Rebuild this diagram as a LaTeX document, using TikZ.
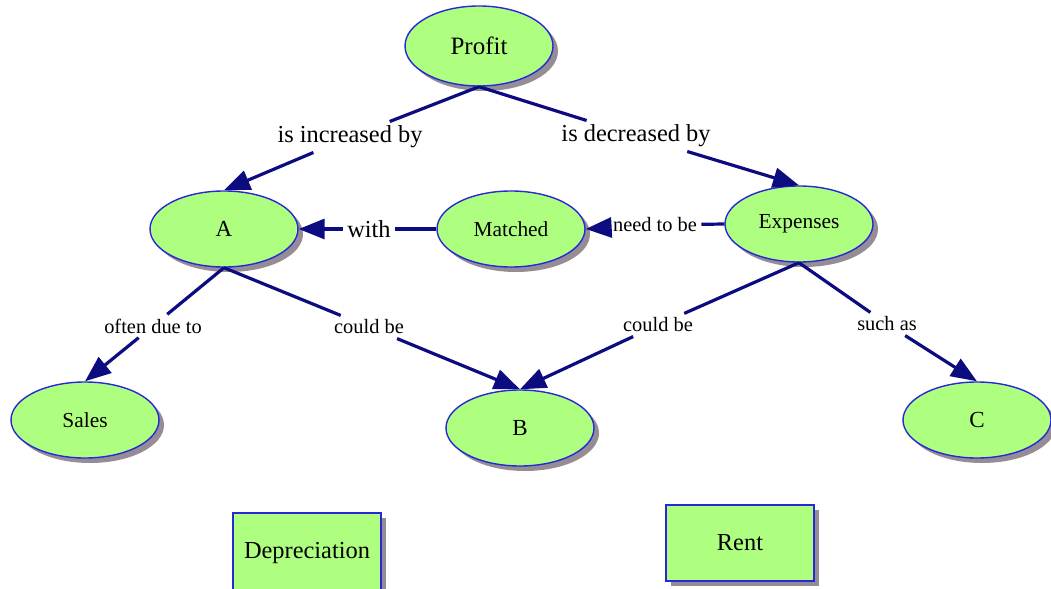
\documentclass[tikz,border=0pt]{standalone}
\usepackage{fontspec}
\setmainfont{Liberation Serif}
\usetikzlibrary{shapes.geometric, shadows, arrows.meta}
\definecolor{conceptfill}{RGB}{174,255,128}
\definecolor{conceptline}{RGB}{40,40,215}
\definecolor{linkblue}{RGB}{12,12,128}
\definecolor{shadowgray}{RGB}{150,140,150}

\begin{document}
\begin{tikzpicture}[x=0.5pt,y=-0.5pt,
  concept/.style={ellipse, draw=conceptline, line width=0.7pt, fill=conceptfill,
    minimum width=74pt, minimum height=38pt, inner sep=0pt, text=black,
    drop shadow={shadow xshift=2.5pt, shadow yshift=-2.5pt, fill=shadowgray, opacity=1},
    font=\fontsize{10.7}{12}\selectfont},
  conceptbox/.style={rectangle, draw=conceptline, line width=0.9pt, fill=conceptfill,
    minimum width=74pt, minimum height=38pt, inner sep=0pt, text=black,
    drop shadow={shadow xshift=2.5pt, shadow yshift=-2.5pt, fill=shadowgray, opacity=1},
    font=\fontsize{12.2}{14}\selectfont},
  biglink/.style={font=\fontsize{12.2}{14}\selectfont, inner sep=2pt, text=black},
  smalllink/.style={font=\fontsize{10.2}{12}\selectfont, inner sep=2pt, text=black},
  linkline/.style={draw=linkblue, line width=1.6pt},
  linkarrow/.style={linkline, -{Triangle[length=13pt,width=10pt]}}]
\useasboundingbox (0,0) rectangle (1051,589);

% concepts
\node[concept, minimum height=40pt, font=\fontsize{12.5}{14}\selectfont] (profit) at (479,46) {Profit};
\node[concept, font=\fontsize{11.5}{12}\selectfont] (A) at (224,229) {A};
\node[concept] (matched) at (511,229) {Matched};
\node[concept] (expenses) at (799,224) {Expenses};
\node[concept] (sales) at (85,420) {Sales};
\node[concept, font=\fontsize{11.5}{12}\selectfont] (B) at (520,428) {B};
\node[concept, font=\fontsize{11.5}{12}\selectfont] (C) at (977,420) {C};
\node[conceptbox, minimum height=40pt] (depreciation) at (307,553) {Depreciation};
\node[conceptbox] (rent) at (740,543) {Rent};

% linking phrases
\node[biglink] (increased) at (350,137) {is increased by};
\node[biglink] (decreased) at (636,136) {is decreased by};
\node[biglink] (with) at (369,229) {with};
\node[smalllink] (needto) at (655,225) {need to be};
\node[smalllink] (oftendue) at (153,326) {often due to};
\node[smalllink] (couldA) at (369,327) {could be};
\node[smalllink] (couldE) at (658,325) {could be};
\node[smalllink] (suchas) at (887,324) {such as};

% connectors
\draw[linkline] (profit.south) -- (increased);
\draw[linkarrow] (increased) -- (A.north);
\draw[linkline] (profit.south) -- (decreased);
\draw[linkarrow] (decreased) -- (expenses.north);
\draw[linkline] (matched.west) -- (with);
\draw[linkarrow] (with) -- (A.east);
\draw[linkline] (expenses.west) -- (needto);
\draw[linkarrow] (needto) -- (matched.east);
\draw[linkline] (A.south) -- (oftendue);
\draw[linkarrow] (oftendue) -- (sales.north);
\draw[linkline] (A.south) -- (couldA);
\draw[linkarrow] (couldA) -- (B.north);
\draw[linkline] (expenses.south) -- (couldE);
\draw[linkarrow] (couldE) -- (B.north);
\draw[linkline] (expenses.south) -- (suchas);
\draw[linkarrow] (suchas) -- (C.north);

\end{tikzpicture}
\end{document}
